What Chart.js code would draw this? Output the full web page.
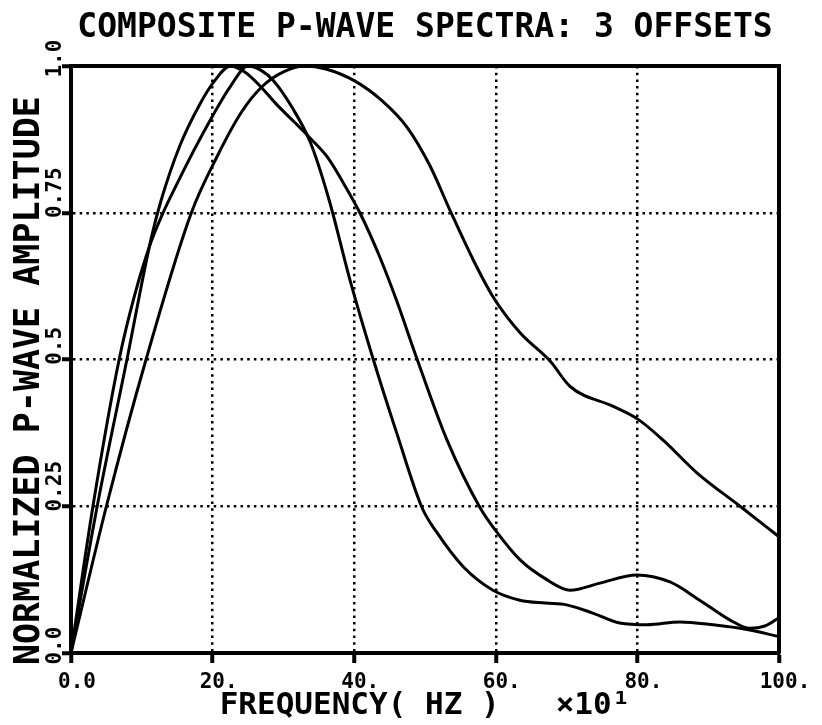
<!DOCTYPE html>
<html>
<head>
<meta charset="utf-8">
<title>Composite P-wave spectra</title>
<script src="https://cdn.jsdelivr.net/npm/chart.js@4/dist/chart.umd.min.js"></script>
<style>
    html, body { margin: 0; padding: 0; background: #fff; }
    canvas { display: block; }
</style>
</head>
<body>
<canvas id="spectraChart" width="822" height="725"></canvas>
<script>
// Normalized amplitude spectra, one curve per offset (frequency in Hz x10)
const freqA = [0, 3.7, 7.9, 11.3, 12.7, 15.4, 18.2, 20.3, 22.5, 24.5, 26.7, 29, 31.5, 33.8, 36.2, 38.5, 40.8, 43.6, 46, 48.9, 53.1, 57.8, 60.2, 63.4, 67.2, 70.5, 74.7, 79.9, 84.6, 88.8, 93.1, 95.9, 98, 100];
const ampA  = [0, 0.25, 0.5, 0.705, 0.77, 0.865, 0.935, 0.975, 1.0, 0.99, 0.966, 0.935, 0.905, 0.877, 0.845, 0.8, 0.75, 0.675, 0.6, 0.5, 0.363, 0.247, 0.205, 0.159, 0.125, 0.107, 0.119, 0.133, 0.121, 0.09, 0.056, 0.042, 0.046, 0.06];

const freqB = [0, 3.1, 6.8, 9, 11.3, 13, 15, 17.3, 20, 22.5, 25, 26.8, 28.6, 31.2, 33.8, 36.5, 39.3, 42.7, 46, 49.6, 51.7, 55.4, 59.6, 63.4, 67, 70, 73.7, 77.5, 81.4, 86, 90.7, 95.5, 100];
const ampB  = [0, 0.25, 0.5, 0.61, 0.7, 0.75, 0.8, 0.855, 0.915, 0.965, 1.0, 0.993, 0.975, 0.93, 0.87, 0.77, 0.64, 0.5, 0.375, 0.247, 0.205, 0.147, 0.107, 0.09, 0.085, 0.082, 0.068, 0.051, 0.048, 0.053, 0.048, 0.04, 0.028];

const freqC = [0, 5, 10.6, 17, 20.6, 24, 27, 30, 33, 36, 40, 44, 47.5, 50.7, 53.5, 56.8, 59.6, 63.4, 67.7, 70.5, 76.6, 80.1, 83.6, 88.4, 94.5, 100];
const ampC  = [0, 0.25, 0.5, 0.75, 0.845, 0.92, 0.965, 0.99, 1.0, 0.995, 0.975, 0.94, 0.895, 0.83, 0.755, 0.67, 0.607, 0.546, 0.497, 0.454, 0.42, 0.398, 0.363, 0.307, 0.25, 0.198];

// Axis tick labels, plotter style (trailing blanks nudge the centred text down)
const xTickLabels = ['0.0', '20.', '40.', '60.', '80.', '100.'];
const yTickLabels = ['0.0  ', '0.25', '0.5 ', '0.75', '1.0  '];

const plotFont = "'DejaVu Sans Mono', monospace";

function toPoints(xs, ys) {
    return xs.map((x, i) => ({ x: x, y: ys[i] }));
}

function curve(xs, ys) {
    return {
        data: toPoints(xs, ys),
        borderColor: '#000',
        borderWidth: 3,
        pointRadius: 0,
        fill: false,
        cubicInterpolationMode: 'monotone'
    };
}

// Solid frame on the top and right edges of the plot
const framePlugin = {
    id: 'frame',
    afterDatasetsDraw(chart) {
        const { ctx, chartArea: a } = chart;
        ctx.save();
        ctx.strokeStyle = '#000';
        ctx.lineWidth = 4;
        ctx.beginPath();
        ctx.moveTo(a.left, a.top);
        ctx.lineTo(a.right, a.top);
        ctx.lineTo(a.right, a.bottom);
        ctx.stroke();
        ctx.restore();
    }
};

const dotted = {
    color: '#000',
    lineWidth: 2.5,
    drawTicks: true,
    tickColor: '#000',
    tickWidth: 4
};

const ctx = document.getElementById('spectraChart').getContext('2d');
const spectraChart = new Chart(ctx, {
    type: 'line',
    data: {
        datasets: [curve(freqA, ampA), curve(freqB, ampB), curve(freqC, ampC)]
    },
    options: {
        responsive: false,
        animation: false,
        devicePixelRatio: 1,
        layout: { padding: { left: 0, right: 43, top: 0, bottom: 0 } },
        plugins: {
            legend: { display: false },
            tooltip: { enabled: false },
            title: {
                display: true,
                text: 'COMPOSITE P-WAVE SPECTRA: 3 OFFSETS',
                fullSize: false,
                align: 'center',
                color: '#000',
                font: { family: plotFont, size: 33, weight: 'bold', lineHeight: 1.2 },
                padding: { top: 9, bottom: 17.4 }
            }
        },
        scales: {
            x: {
                type: 'linear',
                min: 0,
                max: 100,
                afterFit: (scale) => { scale.height = 72; },
                ticks: {
                    stepSize: 20,
                    autoSkip: false,
                    maxRotation: 0,
                    color: '#000',
                    padding: 7,
                    labelOffset: 6,
                    font: { family: plotFont, size: 21, weight: 'bold' },
                    callback: (value, index) => xTickLabels[index]
                },
                grid: Object.assign({}, dotted, { tickLength: 10 }),
                border: { display: true, color: '#000', width: 4, dash: [2.5, 4.2] },
                title: {
                    display: true,
                    text: 'FREQUENCY( HZ )   \u00d710\u00b9',
                    color: '#000',
                    font: { family: plotFont, size: 31, weight: 'bold', lineHeight: 1.2 },
                    padding: { top: 0, bottom: 0 }
                }
            },
            y: {
                min: 0,
                max: 1,
                afterFit: (scale) => { scale.width = 71; },
                ticks: {
                    stepSize: 0.25,
                    autoSkip: false,
                    minRotation: 90,
                    maxRotation: 90,
                    crossAlign: 'center',
                    padding: -25.6,
                    labelOffset: -20,
                    color: '#000',
                    font: { family: plotFont, size: 21, weight: 'bold' },
                    callback: (value, index) => yTickLabels[index]
                },
                grid: Object.assign({}, dotted, { tickLength: 9 }),
                border: { display: true, color: '#000', width: 4, dash: [2.5, 4.2] },
                title: {
                    display: true,
                    // trailing spaces push the label a little below centre
                    text: 'NORMALIZED P-WAVE AMPLITUDE  ',
                    color: '#000',
                    font: { family: plotFont, size: 35, weight: 'bold', lineHeight: 1.2 },
                    padding: { top: 9, bottom: 0 }
                }
            }
        }
    },
    plugins: [framePlugin]
});
</script>
</body>
</html>
